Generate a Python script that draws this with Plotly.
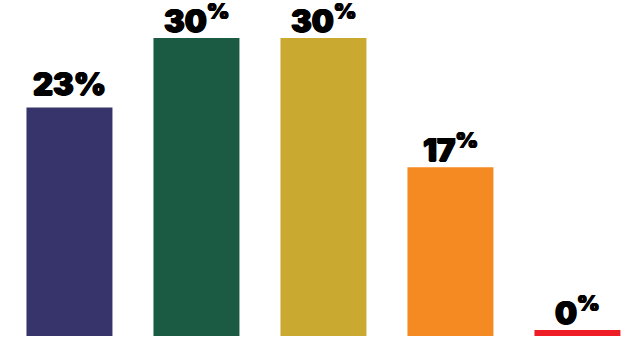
import plotly.graph_objects as go

# Share of responses per answer option
categories = ["A", "B", "C", "D", "E"]
values = [23, 30, 30, 17, 0]
labels = ["23%", "30<sup>%</sup>", "30<sup>%</sup>", "17<sup>%</sup>", "0<sup>%</sup>"]
colors = ["#36346a", "#1c5b43", "#c9a92f", "#f68a22", "#ee1c25"]

# zero-valued options still get a thin stub so the colour is visible
MIN_STUB = 0.6
heights = [max(v, MIN_STUB) for v in values]

positions = list(range(len(categories)))

fig = go.Figure(
    go.Bar(
        x=positions,
        y=heights,
        width=0.677,
        marker=dict(color=colors, line=dict(width=0)),
        hoverinfo="skip",
    )
)

label_font = dict(
    family="Inter",
    size=31,
    color="#000000",
    weight=900,
    shadow="0.7px 0 0 #000, -0.7px 0 0 #000, 0 0.5px 0 #000",
)

for pos, h, lab in zip(positions, heights, labels):
    # labels with a raised percent sign sit a little closer to the bar
    shift = -3 if "<sup>" in lab else 4
    fig.add_annotation(
        x=pos,
        y=h,
        text=lab,
        showarrow=False,
        xanchor="center",
        yanchor="bottom",
        yshift=shift,
        font=label_font,
    )

fig.update_layout(
    width=637,
    height=338,
    margin=dict(l=0, r=0, t=0, b=2),
    paper_bgcolor="#ffffff",
    plot_bgcolor="#ffffff",
    showlegend=False,
    xaxis=dict(
        range=[-0.547, 4.469],
        showticklabels=False,
        showgrid=False,
        zeroline=False,
        showline=False,
        ticks="",
    ),
    yaxis=dict(
        range=[0, 33.83],
        showticklabels=False,
        showgrid=False,
        zeroline=False,
        showline=False,
        ticks="",
    ),
)

fig.write_html("out.html")
